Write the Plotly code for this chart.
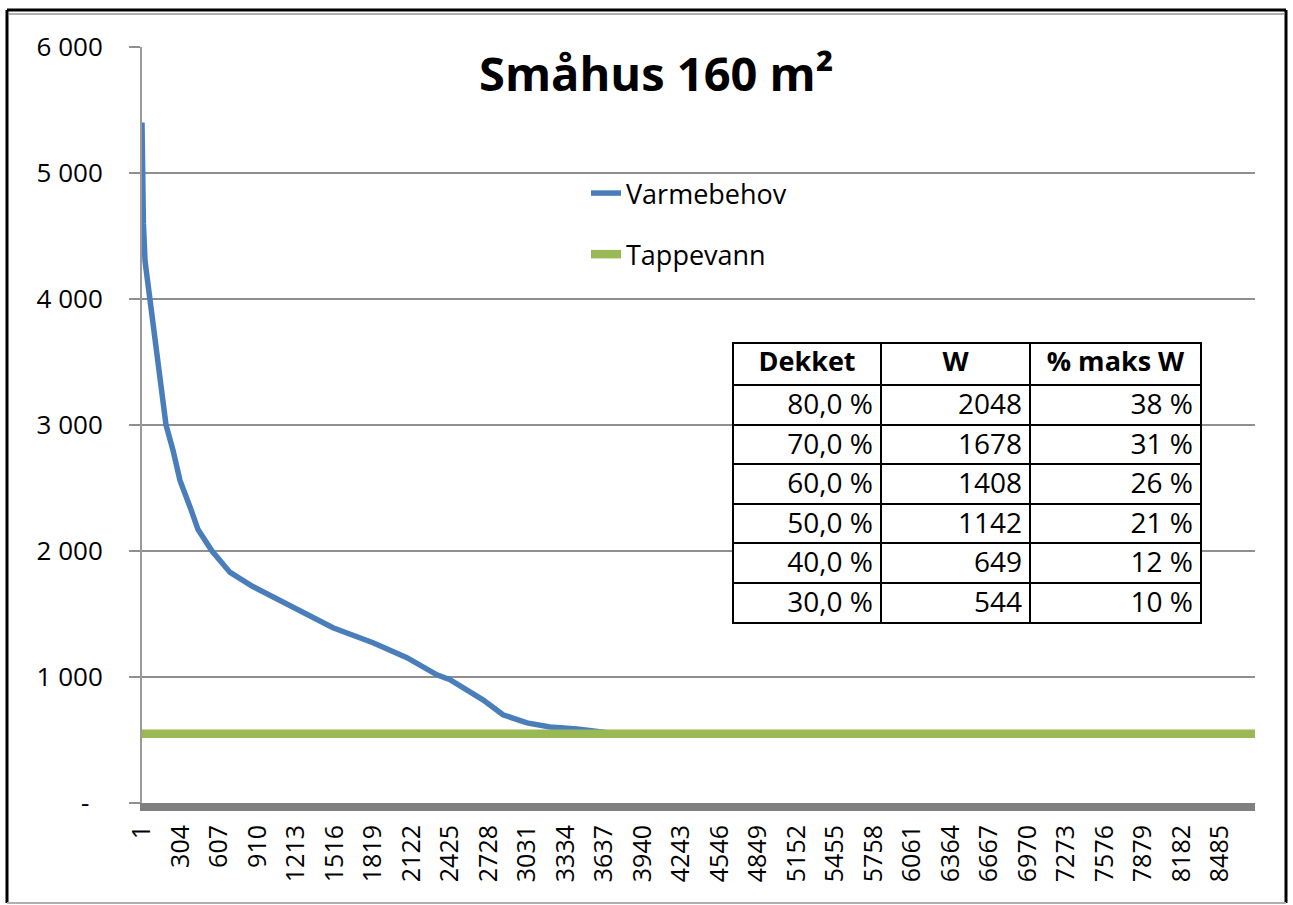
import plotly.graph_objects as go

# ---------------- data ----------------
varme_hours = [1, 5, 12, 25, 64, 127, 190, 245, 300, 379, 442, 552, 694, 870,
               1142, 1504, 1819, 2086, 2322, 2425, 2684, 2842, 3031, 3212,
               3424, 3650, 3900, 8760]
varme_watts = [5400, 4950, 4600, 4300, 4000, 3500, 3000, 2800, 2560, 2350,
               2170, 2000, 1830, 1720, 1574, 1391, 1272, 1153, 1017, 978,
               819, 700, 636, 604, 588, 560, 550, 550]

tappe_hours = [1, 8760]
tappe_watts = [550, 550]

x_tick_vals = [1, 304, 607, 910, 1213, 1516, 1819, 2122, 2425, 2728, 3031,
               3334, 3637, 3940, 4243, 4546, 4849, 5152, 5455, 5758, 6061,
               6364, 6667, 6970, 7273, 7576, 7879, 8182, 8485]
x_tick_text = [str(v) for v in x_tick_vals]

y_tick_vals = [0, 1000, 2000, 3000, 4000, 5000, 6000]
y_tick_text = ["-\u00a0\u00a0", "1 000", "2 000", "3 000", "4 000", "5 000", "6 000"]

table_header = ["Dekket", "W", "% maks W"]
table_dekket = ["80,0 %", "70,0 %", "60,0 %", "50,0 %", "40,0 %", "30,0 %"]
table_w = [2048, 1678, 1408, 1142, 649, 544]
table_pct = ["38 %", "31 %", "26 %", "21 %", "12 %", "10 %"]

title_text = "Småhus 160 m²"

# ---------------- layout geometry (pixels) ----------------
W, H = 1293, 905
PL, PR, PT, PB = 142, 1255, 47, 803          # plot area


def px_x(px):
    return (px - PL) / (PR - PL)


def px_y(py):
    return (PB - py) / (PB - PT)


FONT = "Open Sans"
BLUE = "#4a7ebb"
GREEN = "#98b954"
GRID = "#8f8f8f"

fig = go.Figure()

fig.add_trace(go.Scatter(
    x=varme_hours, y=varme_watts, mode="lines", name="Varmebehov",
    line=dict(color=BLUE, width=5.5), legendgroup="a"))
fig.add_trace(go.Scatter(
    x=tappe_hours, y=tappe_watts, mode="lines", name="Tappevann",
    line=dict(color=GREEN, width=8.5), legendgroup="b"))

fig.add_trace(go.Table(
    domain=dict(x=[px_x(733), px_x(1201)], y=[px_y(640), px_y(343)]),
    columnwidth=[148, 149, 171],
    header=dict(values=table_header,
                align="center", height=42,
                fill=dict(color="white"),
                line=dict(color="black", width=2),
                font=dict(family=FONT, size=27, color="black", weight="bold")),
    cells=dict(values=[table_dekket, table_w, table_pct],
               align="right", height=39.6,
               fill=dict(color="white"),
               line=dict(color="black", width=2),
               font=dict(family=FONT, size=28, color="black")),
))

shapes = [
    # outer frame
    dict(type="line", xref="paper", yref="paper", x0=px_x(7), x1=px_x(7),
         y0=px_y(10), y1=px_y(903), line=dict(color="black", width=3)),
    dict(type="line", xref="paper", yref="paper", x0=px_x(7), x1=px_x(1286),
         y0=px_y(10), y1=px_y(10), line=dict(color="black", width=3)),
    dict(type="line", xref="paper", yref="paper", x0=px_x(1286), x1=px_x(1286),
         y0=px_y(10), y1=px_y(903), line=dict(color="black", width=3)),
    dict(type="line", xref="paper", yref="paper", x0=px_x(9), x1=px_x(1284),
         y0=px_y(14), y1=px_y(14), line=dict(color="#b0b0b0", width=2)),
    dict(type="line", xref="paper", yref="paper", x0=px_x(7), x1=px_x(1286),
         y0=px_y(903), y1=px_y(903), line=dict(color="#b0b0b0", width=2)),
]

fig.update_layout(
    width=W, height=H,
    margin=dict(l=PL, r=W - PR, t=PT, b=H - PB, pad=0),
    paper_bgcolor="white", plot_bgcolor="white",
    font=dict(family=FONT, size=22, color="black"),
    showlegend=True,
    legend=dict(x=px_x(586), y=px_y(169), xanchor="left", yanchor="top",
                bgcolor="rgba(0,0,0,0)", font=dict(family=FONT, size=27),
                tracegroupgap=23, traceorder="grouped"),
    annotations=[dict(text="<b>%s</b>" % title_text, xref="paper", yref="paper",
                      x=px_x(656), y=px_y(73), xanchor="center", yanchor="middle",
                      showarrow=False,
                      font=dict(family=FONT, size=47, color="black"))],
    shapes=shapes,
    xaxis=dict(range=[1, 8760], tickmode="array", tickvals=x_tick_vals,
               ticktext=x_tick_text, tickangle=-90, showgrid=False,
               zeroline=False, showline=True, linecolor="#808080", linewidth=8,
               ticks="", tickfont=dict(family=FONT, size=25),
               ticklabelstandoff=4),
    yaxis=dict(range=[0, 6000], tickmode="array", tickvals=y_tick_vals,
               ticktext=y_tick_text, showgrid=True, gridcolor=GRID,
               gridwidth=2, zeroline=False, showline=True,
               linecolor="#9a9a9a", linewidth=2, ticks="outside", ticklen=11,
               tickcolor=GRID, tickwidth=2, tickfont=dict(family=FONT, size=26),
               ticklabelstandoff=21),
)

fig.write_html("out.html", config={"displayModeBar": False},
               post_script="document.body.style.margin='0';")
